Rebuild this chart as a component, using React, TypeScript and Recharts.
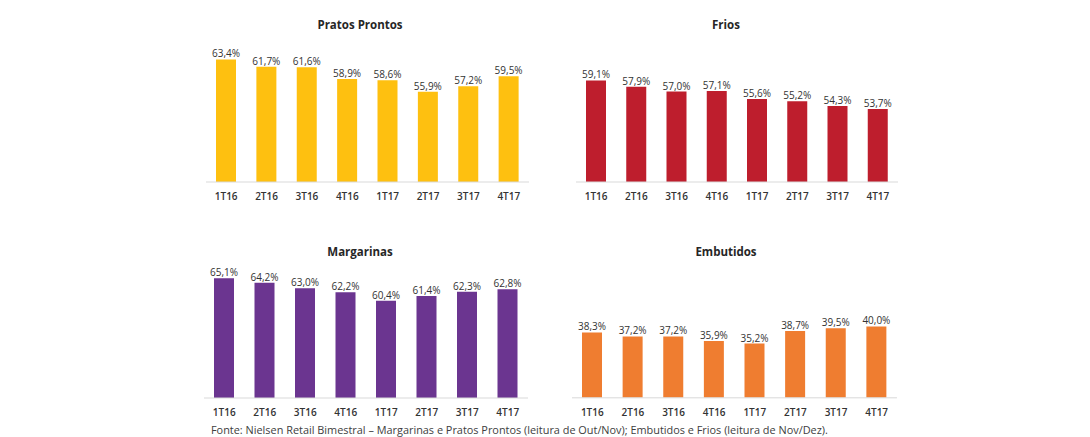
import React from "react";
import { BarChart, Bar, XAxis, YAxis, LabelList } from "recharts";

const quarters = ["1T16", "2T16", "3T16", "4T16", "1T17", "2T17", "3T17", "4T17"];

const pratosProntos = [63.4, 61.7, 61.6, 58.9, 58.6, 55.9, 57.2, 59.5];
const frios = [59.1, 57.9, 57.0, 57.1, 55.6, 55.2, 54.3, 53.7];
const margarinas = [65.1, 64.2, 63.0, 62.2, 60.4, 61.4, 62.3, 62.8];
const embutidos = [38.3, 37.2, 37.2, 35.9, 35.2, 38.7, 39.5, 40.0];

const footnote =
  "Fonte: Nielsen Retail Bimestral – Margarinas e Pratos Prontos (leitura de Out/Nov); Embutidos e Frios (leitura de Nov/Dez).";

const font = "'Open Sans', sans-serif";
const LABEL_SPACE = 20;
const AXIS_SPACE = 30;

type PanelProps = {
  title: string;
  values: number[];
  color: string;
  domain: [number, number];
  left: number;
  top: number;
  width: number;
  plotHeight: number;
  titleX: number;
  titleY: number;
};

const fmt = (v: any) => `${Number(v).toFixed(1).replace(".", ",")}%`;

const Panel = (props: PanelProps) => {
  const data = quarters.map((q, i) => ({ name: q, value: props.values[i] }));

  return (
    <>
      <div
        style={{
          position: "absolute",
          left: props.titleX - 100,
          top: props.titleY - 9,
          width: 200,
          textAlign: "center",
          fontFamily: font,
          fontWeight: 700,
          fontSize: 11.5,
          lineHeight: "18px",
          color: "#262626",
        }}
      >
        {props.title}
      </div>
      <div style={{ position: "absolute", left: props.left, top: props.top - LABEL_SPACE }}>
        <BarChart
          width={props.width}
          height={props.plotHeight + LABEL_SPACE + AXIS_SPACE}
          data={data}
          margin={{ top: LABEL_SPACE, right: 0, bottom: 0, left: 0 }}
        >
          <XAxis
            dataKey="name"
            height={AXIS_SPACE}
            axisLine={{ stroke: "#d9d9d9" }}
            tickLine={false}
            tickMargin={5}
            interval={0}
            tick={{ fill: "#333333", fontSize: 10, fontWeight: 600, fontFamily: font }}
          />
          <YAxis hide domain={props.domain} allowDataOverflow />
          <Bar dataKey="value" fill={props.color} barSize={20} isAnimationActive={false}>
            <LabelList
              dataKey="value"
              position="top"
              offset={2}
              formatter={fmt}
              style={{ fill: "#333333", fontSize: 10, fontWeight: 500, fontFamily: font }}
            />
          </Bar>
        </BarChart>
      </div>
    </>
  );
};

const App = () => {
  return (
    <div
      style={{
        position: "absolute",
        left: 0,
        top: 0,
        width: 1090,
        height: 437,
        background: "#ffffff",
        overflow: "hidden",
      }}
    >
      <Panel
        title="Pratos Prontos"
        values={pratosProntos}
        color="#FEC010"
        domain={[35, 70]}
        left={206}
        top={30.5}
        width={323}
        plotHeight={151}
        titleX={360}
        titleY={25}
      />
      <Panel
        title="Frios"
        values={frios}
        color="#BE1E2D"
        domain={[40, 65]}
        left={576}
        top={48.5}
        width={322}
        plotHeight={133}
        titleX={726}
        titleY={25}
      />
      <Panel
        title="Margarinas"
        values={margarinas}
        color="#6B3590"
        domain={[40, 70]}
        left={204}
        top={254.5}
        width={324}
        plotHeight={143}
        titleX={360}
        titleY={251.5}
      />
      <Panel
        title="Embutidos"
        values={embutidos}
        color="#EF7D30"
        domain={[20, 60]}
        left={572}
        top={254.7}
        width={325}
        plotHeight={142.8}
        titleX={726}
        titleY={251.5}
      />
      <div
        style={{
          position: "absolute",
          left: 211,
          top: 422,
          fontFamily: font,
          fontSize: 10.9,
          lineHeight: "16px",
          color: "#404040",
          whiteSpace: "nowrap",
        }}
      >
        {footnote}
      </div>
    </div>
  );
};

export default App;
